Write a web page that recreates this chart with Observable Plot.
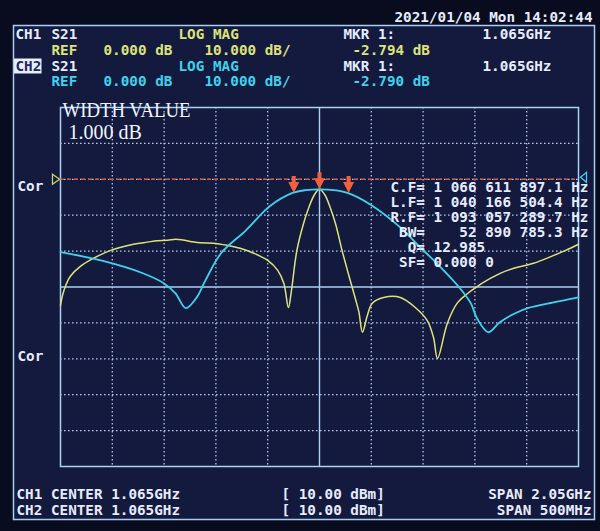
<!DOCTYPE html>
<html><head><meta charset="utf-8">
<script src="https://cdn.jsdelivr.net/npm/d3@7"></script>
<script src="https://cdn.jsdelivr.net/npm/@observablehq/plot@0.6"></script>
<style>html,body{margin:0;padding:0;background:#090c1e;} svg{display:block}</style>
</head><body><div id="chart"></div>
<script>
// ---- data (MHz, dB) ----
const ch1Center = 1065, ch1Span = 2050;   // CH1: CENTER 1.065GHz, SPAN 2.05GHz
const ch2Center = 1065, ch2Span = 500;    // CH2: CENTER 1.065GHz, SPAN 500MHz
const ch1Freq = [40, 48, 61, 79, 120, 179, 239, 329, 384, 423, 464, 495, 524, 555, 594, 645, 700, 751, 805, 860, 899, 924, 942, 954, 975, 1001, 1022, 1045, 1065, 1086, 1108, 1129, 1155, 1180, 1206, 1221, 1235, 1254, 1274, 1319, 1385, 1444, 1491, 1516, 1532, 1571, 1610, 1651, 1690, 1729, 1780, 1834, 1912, 1992, 2039, 2090];
const ch1Mag = [-35.1, -32.3, -29.5, -27.0, -24.2, -21.7, -19.8, -18.1, -17.5, -17.1, -17.0, -16.7, -16.9, -17.3, -17.7, -17.8, -18.4, -19.2, -20.6, -22.6, -25.3, -29.0, -35.7, -31.0, -20.0, -12.5, -8.0, -4.3, -2.794, -4.3, -8.0, -12.5, -20.0, -26.5, -33.0, -37.0, -42.6, -38.0, -34.5, -32.9, -32.9, -35.7, -39.3, -44.0, -49.9, -40.1, -34.5, -31.8, -29.8, -28.1, -26.2, -24.8, -23.4, -21.2, -19.8, -18.1];
const ch2Freq = [815, 854, 892, 915, 926, 936, 946, 955, 970, 994, 1017, 1039, 1052, 1065, 1079, 1092, 1114, 1143, 1162, 1182, 1199, 1211, 1217, 1228, 1239, 1254, 1266, 1291, 1315];
const ch2Mag = [-20.3, -22.6, -25.9, -29.0, -31.8, -35.9, -33.1, -28.1, -20.6, -14.2, -7.5, -3.8, -3.0, -2.79, -3.0, -3.8, -7.0, -13.4, -18.9, -24.5, -29.8, -34.5, -38.7, -42.6, -39.8, -37.3, -35.9, -34.3, -32.9];
const markerFreq = [1040.1665, 1065.0, 1093.0573];   // L.F, MKR 1, R.F
const markerMag = [-3.79, -2.79, -3.79];
const refLevel = 0;
const divLines = [1, 2, 3, 4, 6, 7, 8, 9];
const dbLines = [10, 0, -10, -20, -40, -50, -60, -70];
const centerDiv = 5, centerDb = -30;

// ---- layout ----
const W = 600, H = 531, ML = 60, MT = 107, MR = 22, MB = 65;
const mono = "'DejaVu Sans Mono', 'Liberation Mono', monospace";
const WHITE = "#e6ecff", YEL = "#dde37a", CYN = "#3fd2ee";

const div1 = f => (f - ch1Center) / ch1Span * 10 + 5;
const div2 = f => (f - ch2Center) / ch2Span * 10 + 5;
const ch1 = ch1Freq.map((f, i) => ({x: div1(f), y: ch1Mag[i]}));
const ch2 = ch2Freq.map((f, i) => ({x: div2(f), y: ch2Mag[i]}));
const markers = markerFreq.map((f, i) => ({x: div2(f), y: markerMag[i]}));

function label(str, px, py, fill, opts = {}) {
  return Plot.text([str], {text: d => d, frameAnchor: "top-left", dx: px - ML, dy: py - MT, fill,
    textAnchor: "start", lineAnchor: "middle", fontFamily: mono, fontWeight: "bold", fontSize: 14.3, ...opts});
}
const nb = s => s.replace(/ /g, "\u00a0");

const downArrow = {draw(c) { c.moveTo(-2, -17); c.lineTo(2, -17); c.lineTo(2, -11); c.lineTo(5.5, -11); c.lineTo(0, 0); c.lineTo(-5.5, -11); c.lineTo(-2, -11); c.closePath(); }};
const rightTri = {draw(c) { c.moveTo(-1, 0); c.lineTo(-8, -5); c.lineTo(-8, 5); c.closePath(); }};
const leftTri = {draw(c) { c.moveTo(2, -2); c.lineTo(8, -7); c.lineTo(8, 3); c.closePath(); }};
const hiBox = {draw(c) { c.rect(-14, -7.5, 28, 15); }};
const outer = {insetLeft: -47, insetTop: -82, insetRight: -16, insetBottom: -53};

const chart = Plot.plot({
  width: W, height: H,
  marginLeft: ML, marginTop: MT, marginRight: MR, marginBottom: MB,
  x: {domain: [0, 10], axis: null},
  y: {domain: [-80, 20], axis: null},
  style: {background: "#090c1e", overflow: "visible"},
  marks: [
    Plot.frame({fill: "#131a3d", stroke: "none", ...outer}),
    Plot.ruleX(divLines, {stroke: "#b4c6f0", strokeWidth: 1.3, strokeDasharray: "1.6,2.4"}),
    Plot.ruleY(dbLines, {stroke: "#b4c6f0", strokeWidth: 1.3, strokeDasharray: "1.6,2.4"}),
    Plot.ruleX([centerDiv], {stroke: "#a9d2f5", strokeWidth: 1.4}),
    Plot.ruleY([centerDb], {stroke: "#a9d2f5", strokeWidth: 1.4}),
    Plot.frame({stroke: "#a9d2f5", strokeWidth: 1.5}),
    Plot.ruleY([refLevel], {stroke: "#d9583a", strokeWidth: 1.4, strokeDasharray: "4,3"}),
    Plot.line(ch1, {x: "x", y: "y", stroke: YEL, strokeWidth: 1.5, curve: "catmull-rom"}),
    Plot.line(ch2, {x: "x", y: "y", stroke: CYN, strokeWidth: 1.8, curve: "catmull-rom"}),
    Plot.dot(markers, {x: "x", y: "y", symbol: downArrow, fill: "#f4603a", stroke: "none"}),
    Plot.dot([refLevel], {y: d => d, frameAnchor: "left", symbol: rightTri, fill: "#131a3d", stroke: "#c8d46a", strokeWidth: 1.3}),
    Plot.dot([refLevel], {y: d => d, frameAnchor: "right", symbol: leftTri, fill: "none", stroke: CYN, strokeWidth: 1.3}),
    // header
    label("2021/01/04 Mon 14:02:44", 592, 17, WHITE, {textAnchor: "end"}),
    label("CH1", 15, 34, WHITE), label("S21", 51, 34, WHITE), label("LOG MAG", 178, 34, YEL),
    label("MKR 1:", 343, 34, WHITE), label("1.065GHz", 482, 34, WHITE),
    label("REF", 51, 50, YEL), label("0.000 dB", 103, 50, YEL), label("10.000 dB/", 204, 50, YEL), label("-2.794 dB", 352, 50, YEL),
    Plot.dot([0], {frameAnchor: "top-left", dx: 27 - ML, dy: 65.5 - MT, symbol: hiBox, fill: "#e8efff", stroke: "none"}),
    label("CH2", 15, 66, "#1d2a62"), label("S21", 51, 66, WHITE), label("LOG MAG", 178, 66, CYN),
    label("MKR 1:", 343, 66, WHITE), label("1.065GHz", 482, 66, WHITE),
    label("REF", 51, 81, CYN), label("0.000 dB", 103, 81, CYN), label("10.000 dB/", 204, 81, CYN), label("-2.790 dB", 352, 81, CYN),
    // left labels
    label("Cor", 17, 186, WHITE), label("Cor", 17, 356, WHITE),
    // width value
    label("WIDTH VALUE", 62, 110, "#f2f5ff", {fontFamily: "'Liberation Serif', 'DejaVu Serif', serif", fontWeight: "normal", fontSize: 21}),
    label("1.000 dB", 68, 132, "#f2f5ff", {fontFamily: "'Liberation Serif', 'DejaVu Serif', serif", fontWeight: "normal", fontSize: 20}),
    // bandwidth readout
    label(nb("C.F= 1 066 611 897.1 Hz"), 390, 187, WHITE),
    label(nb("L.F= 1 040 166 504.4 Hz"), 390, 202, WHITE),
    label(nb("R.F= 1 093 057 289.7 Hz"), 390, 217, WHITE),
    label(nb(" BW=    52 890 785.3 Hz"), 390, 232, WHITE),
    label(nb("  Q= 12.985"), 390, 247, WHITE),
    label(nb(" SF= 0.000 0"), 390, 262, WHITE),
    // footer
    label("CH1 CENTER 1.065GHz", 16, 494, WHITE), label(nb("[ 10.00 dBm]"), 281, 494, WHITE), label("SPAN 2.05GHz", 591, 494, WHITE, {textAnchor: "end"}),
    label("CH2 CENTER 1.065GHz", 16, 510, WHITE), label(nb("[ 10.00 dBm]"), 281, 510, WHITE), label("SPAN 500MHz", 591, 510, WHITE, {textAnchor: "end"}),
    Plot.frame({stroke: "#a9cdf2", strokeWidth: 1.5, ...outer})
  ]
});
d3.select(chart).selectAll("text").filter(function() { return this.textContent === "WIDTH VALUE"; })
  .attr("textLength", 128).attr("lengthAdjust", "spacingAndGlyphs");
document.getElementById("chart").appendChild(chart);
</script>
</body></html>
